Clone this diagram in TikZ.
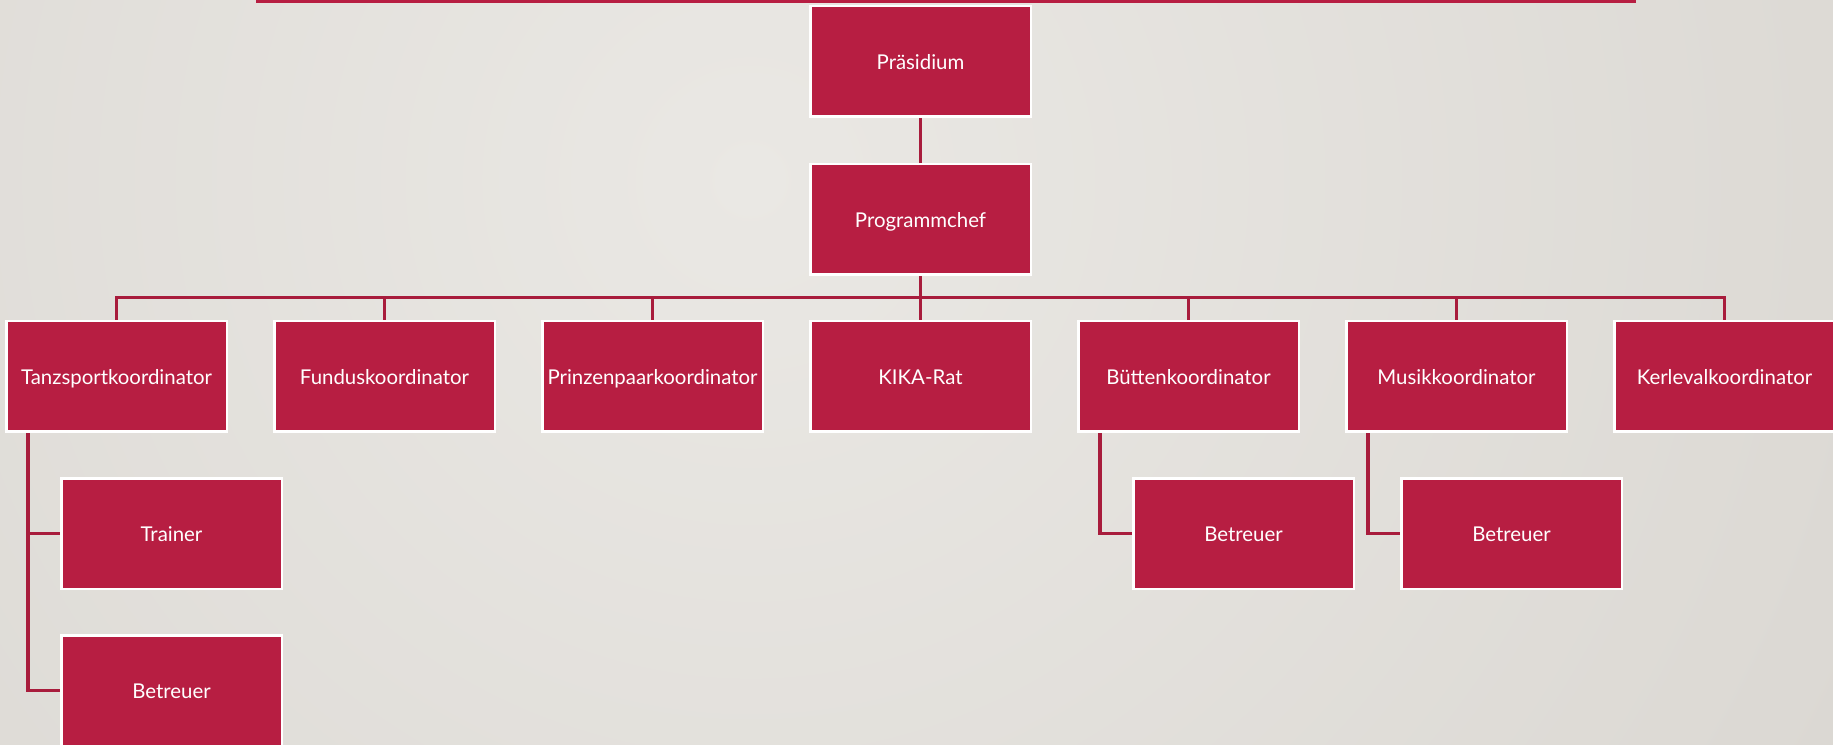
\documentclass[tikz,border=0pt]{standalone}
\usepackage{fontspec}
\setmainfont{Lato}
\pgfdeclarelayer{bg}
\pgfdeclarelayer{lines}
\pgfsetlayers{bg,lines,main}
\definecolor{crimson}{RGB}{183,30,66}
\definecolor{linecol}{RGB}{168,28,60}
\definecolor{bglight}{RGB}{234,232,228}
\definecolor{bgdark}{RGB}{206,202,196}
\tikzset{
  orgbox/.style={draw=white, line width=2.5pt, fill=crimson, text=white,
    minimum width=220.5pt, minimum height=110.5pt, inner sep=0pt,
    text height=16.5pt, text depth=0pt,
    font=\fontsize{20.4}{24}\selectfont},
  link/.style={draw=linecol, line width=3.5pt, line cap=rect}
}
\begin{document}
\begin{tikzpicture}[x=1pt,y=-1pt]
\useasboundingbox (0,0) rectangle (1833,744);
\begin{pgfonlayer}{bg}
  \clip (0,0) rectangle (1833,744);
  \shade[inner color=bglight, outer color=bgdark] (750,180) circle (2300);
  \fill[crimson] (256,0) rectangle (1636,3);
\end{pgfonlayer}

\node[orgbox] (pras) at (920.5,61) {Präsidium};
\node[orgbox] (prog) at (920.5,219) {Programmchef};
\coordinate (bus) at (920.5,297.5);

\node[orgbox] (tanz) at (116.5,376) {Tanzsportkoordinator};
\node[orgbox] (fund) at (384.5,376) {Funduskoordinator};
\node[orgbox] (prinz) at (652.5,376) {Prinzenpaarkoordinator};
\node[orgbox] (kika) at (920.5,376) {KIKA-Rat};
\node[orgbox] (buett) at (1188.5,376) {Büttenkoordinator};
\node[orgbox] (musik) at (1456.5,376) {Musikkoordinator};
\node[orgbox] (kerl) at (1724.5,376) {Kerlevalkoordinator};

\node[orgbox] (trainer) at (171.5,533.5) {Trainer};
\node[orgbox] (betr1) at (171.5,690.5) {Betreuer};
\node[orgbox] (betr2) at (1243.5,533.5) {Betreuer};
\node[orgbox] (betr3) at (1511.5,533.5) {Betreuer};

\begin{pgfonlayer}{lines}
  \draw[link] (pras.south) -- (prog.north);
  \draw[link] (prog.south) -- (bus);
  \foreach \n in {tanz,fund,prinz,kika,buett,musik,kerl}
    \draw[link] (bus) -| (\n.north);
  \draw[link] ([xshift=-88.5pt]tanz.south) |- (trainer.west);
  \draw[link] ([xshift=-88.5pt]tanz.south) |- (betr1.west);
  \draw[link] ([xshift=-88.5pt]buett.south) |- (betr2.west);
  \draw[link] ([xshift=-88.5pt]musik.south) |- (betr3.west);
\end{pgfonlayer}
\end{tikzpicture}
\end{document}
